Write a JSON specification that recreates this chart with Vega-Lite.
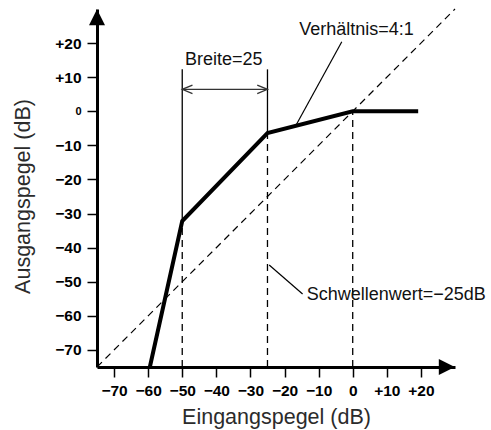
{
  "$schema": "https://vega.github.io/schema/vega-lite/v6.json",
  "width": 358,
  "height": 358,
  "autosize": {"type": "none"},
  "padding": {"left": 97, "top": 9, "right": 36, "bottom": 63},
  "background": "white",
  "config": {"view": {"stroke": null}},
  "datasets": {
    "diag": [{"x": -75, "y": -75}, {"x": 30, "y": 30}],
    "curve": [
      {"x": -59.5, "y": -75},
      {"x": -50, "y": -32.2},
      {"x": -25, "y": -6.4},
      {"x": 0, "y": 0},
      {"x": 19.2, "y": 0}
    ],
    "dashv": [
      {"x": -50, "y": -75, "y2": -32.2},
      {"x": -25, "y": -75, "y2": -6.4},
      {"x": 0, "y": -75, "y2": 0}
    ],
    "solidv": [
      {"x": -50, "y": -32.2, "y2": 12.3},
      {"x": -25, "y": -6.4, "y2": 12.3}
    ],
    "span": [{"x": -50, "x2": -25, "y": 6.45}],
    "chevrons": [
      {"side": "L", "o": 1, "x": -47.0, "y": 7.7},
      {"side": "L", "o": 2, "x": -50, "y": 6.45},
      {"side": "L", "o": 3, "x": -47.0, "y": 5.2},
      {"side": "R", "o": 1, "x": -28.0, "y": 7.7},
      {"side": "R", "o": 2, "x": -25, "y": 6.45},
      {"side": "R", "o": 3, "x": -28.0, "y": 5.2}
    ],
    "pointers": [
      {"x": -3.2, "y": 20.4, "x2": -16.6, "y2": -4.0},
      {"x": -24.5, "y": -45.1, "x2": -14.7, "y2": -53.6}
    ],
    "labels": [
      {"x": -49.2, "y": 13.6, "t": "Breite=25"},
      {"x": -15.7, "y": 22.4, "t": "Verhältnis=4:1"},
      {"x": -13.5, "y": -55.3, "t": "Schwellenwert=−25dB"}
    ],
    "arrows": [
      {"x": -75, "y": 27.6, "dir": "up"},
      {"x": 27.6, "y": -75, "dir": "right"}
    ]
  },
  "layer": [
    {
      "data": {"name": "diag"},
      "mark": {"type": "line", "color": "black", "strokeWidth": 1.2, "strokeDash": [7, 5]},
      "encoding": {
        "x": {
          "field": "x", "type": "quantitative",
          "scale": {"domain": [-75, 30], "nice": false, "zero": false},
          "axis": {
            "values": [-70, -60, -50, -40, -30, -20, -10, 0, 10, 20],
            "tickCount": 20,
            "labelExpr": "datum.value > 0 ? '+' + datum.value : (datum.value < 0 ? '−' + abs(datum.value) : '0')",
            "labelOverlap": false, "labelBound": false, "labelFlush": false,
            "grid": false,
            "domainColor": "black", "domainWidth": 3,
            "tickColor": "black", "tickWidth": 1.5, "tickSize": 10,
            "labelFont": "Liberation Sans", "labelFontWeight": "bold", "labelFontSize": 15.5,
            "labelColor": "black", "labelPadding": 6,
            "title": "Eingangspegel (dB)",
            "titleFont": "Liberation Sans", "titleFontSize": 21.5, "titleFontWeight": "normal",
            "titleColor": "#2b2b2b", "titlePadding": 8
          }
        },
        "y": {
          "field": "y", "type": "quantitative",
          "scale": {"domain": [-75, 30], "nice": false, "zero": false},
          "axis": {
            "values": [-70, -60, -50, -40, -30, -20, -10, 0, 10, 20],
            "tickCount": 20,
            "labelExpr": "datum.value > 0 ? '+' + datum.value : (datum.value < 0 ? '−' + abs(datum.value) : '0')",
            "labelOverlap": false, "labelBound": false, "labelFlush": false,
            "grid": false,
            "domainColor": "black", "domainWidth": 3,
            "tickColor": "black", "tickWidth": 1.5, "tickSize": 10,
            "labelFont": "Liberation Sans", "labelFontWeight": "bold",
            "labelFontSize": {"condition": {"test": "datum.value === 0", "value": 11}, "value": 15.5},
            "labelColor": "black", "labelPadding": 6,
            "title": "Ausgangspegel (dB)",
            "titleFont": "Liberation Sans", "titleFontSize": 21.5, "titleFontWeight": "normal",
            "titleColor": "#2b2b2b", "titlePadding": 20, "titleY": 187
          }
        }
      }
    },
    {
      "data": {"name": "dashv"},
      "mark": {"type": "rule", "color": "black", "strokeWidth": 1.3, "strokeDash": [7, 5]},
      "encoding": {
        "x": {"field": "x", "type": "quantitative"},
        "y": {"field": "y", "type": "quantitative"},
        "y2": {"field": "y2"}
      }
    },
    {
      "data": {"name": "solidv"},
      "mark": {"type": "rule", "color": "black", "strokeWidth": 1.3},
      "encoding": {
        "x": {"field": "x", "type": "quantitative"},
        "y": {"field": "y", "type": "quantitative"},
        "y2": {"field": "y2"}
      }
    },
    {
      "data": {"name": "span"},
      "mark": {"type": "rule", "color": "#333", "strokeWidth": 1.3},
      "encoding": {
        "x": {"field": "x", "type": "quantitative"},
        "x2": {"field": "x2"},
        "y": {"field": "y", "type": "quantitative"}
      }
    },
    {
      "data": {"name": "chevrons"},
      "mark": {"type": "line", "color": "#333", "strokeWidth": 1.3},
      "encoding": {
        "x": {"field": "x", "type": "quantitative"},
        "y": {"field": "y", "type": "quantitative"},
        "detail": {"field": "side"},
        "order": {"field": "o"}
      }
    },
    {
      "data": {"name": "pointers"},
      "mark": {"type": "rule", "color": "black", "strokeWidth": 1.2},
      "encoding": {
        "x": {"field": "x", "type": "quantitative"},
        "y": {"field": "y", "type": "quantitative"},
        "x2": {"field": "x2"},
        "y2": {"field": "y2"}
      }
    },
    {
      "data": {"name": "curve"},
      "mark": {"type": "line", "color": "black", "strokeWidth": 4, "strokeJoin": "miter"},
      "encoding": {
        "x": {"field": "x", "type": "quantitative"},
        "y": {"field": "y", "type": "quantitative"}
      }
    },
    {
      "data": {"name": "arrows"},
      "mark": {"type": "point", "filled": true, "color": "black", "opacity": 1, "size": 256},
      "encoding": {
        "x": {"field": "x", "type": "quantitative"},
        "y": {"field": "y", "type": "quantitative"},
        "shape": {
          "field": "dir", "type": "nominal",
          "scale": {"domain": ["up", "right"], "range": ["M0,-1L-1,1L1,1Z", "M1,0L-1,-1L-1,1Z"]},
          "legend": null
        }
      }
    },
    {
      "data": {"name": "labels"},
      "mark": {"type": "text", "align": "left", "baseline": "alphabetic", "font": "Liberation Sans", "fontSize": 18, "color": "#111"},
      "encoding": {
        "x": {"field": "x", "type": "quantitative"},
        "y": {"field": "y", "type": "quantitative"},
        "text": {"field": "t"}
      }
    }
  ]
}
